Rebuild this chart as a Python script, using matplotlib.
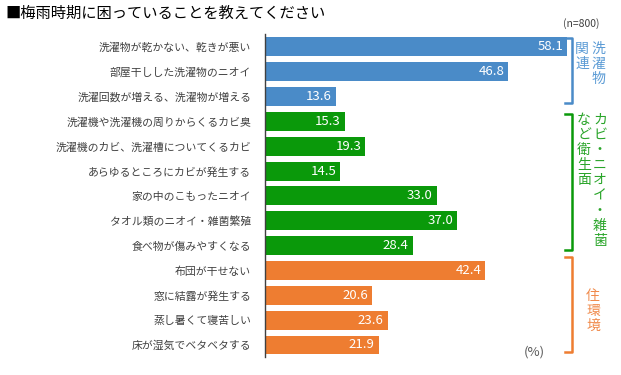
import matplotlib.pyplot as plt

plt.rcParams['font.family'] = ['Noto Sans CJK JP', 'DejaVu Sans']

labels = [
    "洗濯物が乾かない、乾きが悪い",
    "部屋干しした洗濯物のニオイ",
    "洗濯回数が増える、洗濯物が増える",
    "洗濯機や洗濯機の周りからくるカビ臭",
    "洗濯機のカビ、洗濯槽についてくるカビ",
    "あらゆるところにカビが発生する",
    "家の中のこもったニオイ",
    "タオル類のニオイ・雑菌繁殖",
    "食べ物が傷みやすくなる",
    "布団が干せない",
    "窓に結露が発生する",
    "蒸し暑くて寝苦しい",
    "床が湿気でベタベタする",
]
values = [58.1, 46.8, 13.6, 15.3, 19.3, 14.5, 33.0, 37.0, 28.4, 42.4, 20.6, 23.6, 21.9]
groups = [0, 0, 0, 1, 1, 1, 1, 1, 1, 2, 2, 2, 2]

group_colors = ["#4a8bc8", "#0a990a", "#ee7d31"]
text_colors = ["#5b9bd5", "#2aa52a", "#f08a4b"]
group_text = [["洗濯物", "関連"], ["カビ・ニオイ・雑菌", "など衛生面"], ["住環境"]]

fig = plt.figure(figsize=(6.21, 3.75), dpi=100)
ax = fig.add_axes([265 / 621, 0.047, 312 / 621, 0.861])

ypos = list(range(len(values)))
colors = [group_colors[g] for g in groups]
ax.barh(ypos, values, height=0.76, color=colors)
ax.set_ylim(len(values) - 0.5, -0.5)
ax.set_xlim(0, 60)

for y, v in zip(ypos, values):
    ax.annotate(f"{v:.1f}", (v, y), xytext=(-3, 0), textcoords="offset points",
                ha="right", va="center", color="white", fontsize=9.5)

ax.set_yticks(ypos)
ax.set_yticklabels(labels, fontsize=7.8, color="#404040")
ax.tick_params(axis="y", length=0, pad=10)
ax.set_xticks([])
for s in ["top", "right", "bottom"]:
    ax.spines[s].set_visible(False)
ax.spines["left"].set_color("#404040")
ax.spines["left"].set_linewidth(1.0)

fig.text(5 / 621, 1 - 13 / 375, "■梅雨時期に困っていることを教えてください",
         fontsize=11, va="center", ha="left", color="black")
fig.text(600 / 621, 1 - 24 / 375, "(n=800)", fontsize=7.5, ha="right", va="center", color="#404040")
fig.text(545 / 621, 1 - 352 / 375, "(%)", fontsize=9.5, ha="right", va="center", color="#595959")

# brackets (pixel coords: top, bottom)
brackets = [(38, 103), (114, 250), (257, 352)]
bx = 572
for (top, bot), c in zip(brackets, group_colors):
    xs = [(bx - 7) / 621, bx / 621, bx / 621, (bx - 7) / 621]
    ys = [1 - top / 375, 1 - top / 375, 1 - bot / 375, 1 - bot / 375]
    fig.add_artist(plt.Line2D(xs, ys, color=c, lw=1.8, transform=fig.transFigure))

# vertical group labels (column x, top y)
label_pos = [[(598, 42), (582, 42)], [(600, 113), (584, 113)], [(593, 289)]]
for g, cols in enumerate(group_text):
    for txt, (x, y) in zip(cols, label_pos[g]):
        fig.text(x / 621, 1 - y / 375, "\n".join(txt), fontsize=10, ha="center", va="top",
                 color=text_colors[g], linespacing=1.1)

fig.savefig("out.png", dpi=100)
